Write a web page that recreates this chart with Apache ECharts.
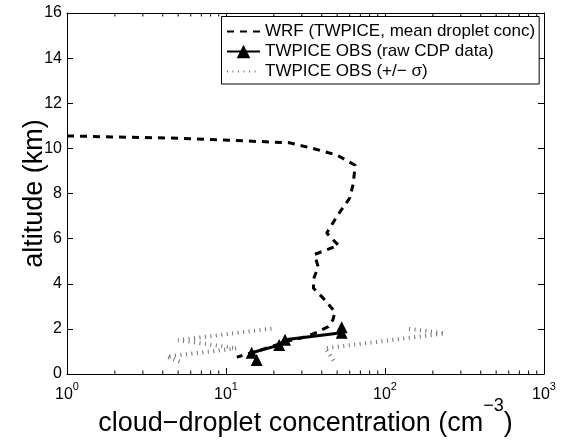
<!DOCTYPE html>
<html><head><meta charset="utf-8">
<script src="https://cdn.jsdelivr.net/npm/echarts@6/dist/echarts.min.js"></script>
<style>html,body{margin:0;padding:0;background:#fff}#c{width:563px;height:441px}</style>
</head><body><div id="c"></div>
<script>
// WRF modelled profile (cm^-3 vs km)
const wrfConc = [1, 5, 25, 35, 50, 65, 63, 60, 50, 43, 51, 36, 38, 35.5, 35.5, 41, 48.5, 47, 44, 36, 30, 24, 20, 15.5, 11.7];
const wrfAlt  = [10.55, 10.45, 10.25, 10.0, 9.7, 9.25, 8.4, 7.8, 7.0, 6.25, 5.7, 5.3, 4.75, 4.2, 3.8, 3.35, 2.75, 2.4, 2.1, 1.8, 1.6, 1.45, 1.25, 1.0, 0.75];
// TWPICE observations (raw CDP)
const obsConc = [15.6, 14.5, 21.6, 23.5, 53.4, 53.4];
const obsAlt  = [0.62, 0.94, 1.28, 1.52, 1.83, 2.07];
// +/- sigma envelopes
const sigLowConc  = [5.1, 4.24, 11.7, 5.0, 19.8];
const sigLowAlt   = [0.55, 0.77, 1.14, 1.5, 2.02];
const sigHighConc = [47.3, 45, 42, 238, 134];
const sigHighAlt  = [0.6, 0.85, 1.14, 1.8, 2.02];
// axis ticks
const xTickValues = [1, 10, 100, 1000];
const xTickExps   = ['0', '1', '2', '3'];
const xMinorTicks = [2, 3, 4, 5, 6, 7, 8, 9, 20, 30, 40, 50, 60, 70, 80, 90, 200, 300, 400, 500, 600, 700, 800, 900];
const yMin = 0, yMax = 16, yStep = 2;

const names = ['WRF (TWPICE, mean droplet conc)', 'TWPICE OBS (raw CDP data)', 'TWPICE OBS (+/\u2212 \u03c3)'];
const pairs = (xs, ys) => xs.map((x, i) => [x, ys[i]]);
const FONT = 'Liberation Sans, Arial, sans-serif';
const BLK = '#000';
const GREY = '#707070';
const HIDE = {color: 'rgba(0,0,0,0)', borderWidth: 0, opacity: 0};
const MINOR_LEN = 3.5;

const chart = echarts.init(document.getElementById('c'), null, {renderer: 'canvas'});
const axLine = {show: true, onZero: false, lineStyle: {color: BLK, width: 1}};
const axTick = {show: true, inside: true, length: 6, lineStyle: {color: BLK, width: 1}};
const minorTickSeries = (y, dir) => ({
  name: 'minor' + y, type: 'scatter', silent: true, z: 5, clip: false,
  data: xMinorTicks.map(v => [v, y]),
  symbol: 'rect', symbolSize: [1, MINOR_LEN], symbolOffset: [0, dir * MINOR_LEN / 2],
  itemStyle: {color: BLK, opacity: 1}, emphasis: {disabled: true}
});

chart.setOption({
  animation: false,
  backgroundColor: '#fff',
  textStyle: {fontFamily: FONT},
  grid: {left: 67, right: 19, top: 13, bottom: 67, containLabel: false, outerBoundsMode: 'none'},
  legend: {
    data: [{name: names[0], itemStyle: HIDE}, {name: names[1]}, {name: names[2], itemStyle: HIDE}],
    orient: 'vertical', left: 221.5, top: 16.5,
    itemWidth: 33, itemHeight: 17, itemGap: 3,
    padding: [6.5, 4, 4, 4.5], borderColor: BLK, borderWidth: 1, backgroundColor: '#fff',
    textStyle: {fontSize: 17, color: BLK, fontFamily: FONT},
    selectedMode: false
  },
  xAxis: [{
    type: 'log', logBase: 10, min: 1, max: 1000, position: 'bottom',
    axisLine: axLine, axisTick: axTick, splitLine: {show: false},
    axisLabel: {
      margin: 7, color: BLK,
      formatter: v => { const i = xTickValues.indexOf(v); return '{b|10}{s|' + (i >= 0 ? xTickExps[i] : '') + '}'; },
      rich: {
        b: {fontSize: 16, fontFamily: FONT, color: BLK, verticalAlign: 'bottom', lineHeight: 22},
        s: {fontSize: 11, fontFamily: FONT, color: BLK, verticalAlign: 'top'}
      }
    },
    name: '{a|cloud\u2212droplet concentration (cm}{s|\u22123}{a|)}',
    nameLocation: 'middle', nameGap: 23, nameMoveOverlap: false,
    nameTextStyle: {
      rich: {
        a: {fontSize: 27, fontFamily: FONT, color: BLK, verticalAlign: 'bottom', lineHeight: 40},
        s: {fontSize: 18, fontFamily: FONT, color: BLK, verticalAlign: 'top'}
      }
    }
  }, {
    type: 'log', logBase: 10, min: 1, max: 1000, position: 'top',
    axisLine: axLine, axisTick: axTick, axisLabel: {show: false}, splitLine: {show: false}
  }],
  yAxis: [{
    type: 'value', min: yMin, max: yMax, interval: yStep, position: 'left',
    axisLine: axLine, axisTick: axTick, splitLine: {show: false},
    axisLabel: {margin: 5, fontSize: 16, color: BLK, fontFamily: FONT},
    name: 'altitude (km)', nameLocation: 'middle', nameGap: 19, nameMoveOverlap: false,
    nameTextStyle: {fontSize: 27, color: BLK, fontFamily: FONT}
  }, {
    type: 'value', min: yMin, max: yMax, interval: yStep, position: 'right',
    axisLine: axLine, axisTick: axTick, axisLabel: {show: false}, splitLine: {show: false}
  }],
  series: [{
    name: names[0], type: 'line', data: pairs(wrfConc, wrfAlt), symbol: 'none', z: 2,
    lineStyle: {color: BLK, width: 3, type: [7, 6]}, itemStyle: {color: BLK}
  }, {
    name: names[1], type: 'line', data: pairs(obsConc, obsAlt), symbol: 'triangle', symbolSize: 12, z: 3,
    lineStyle: {color: BLK, width: 3, type: 'solid'}, itemStyle: {color: BLK}
  }, {
    name: names[2], type: 'line', data: pairs(sigLowConc, sigLowAlt), symbol: 'none', z: 2,
    lineStyle: {color: GREY, width: 4, type: [1, 4.5]}, itemStyle: {color: GREY}
  }, {
    name: names[2], type: 'line', data: pairs(sigHighConc, sigHighAlt), symbol: 'none', z: 2,
    lineStyle: {color: GREY, width: 4, type: [1, 4.5]}, itemStyle: {color: GREY}
  },
  minorTickSeries(yMin, -1),
  minorTickSeries(yMax, 1)
  ]
});
</script></body></html>
